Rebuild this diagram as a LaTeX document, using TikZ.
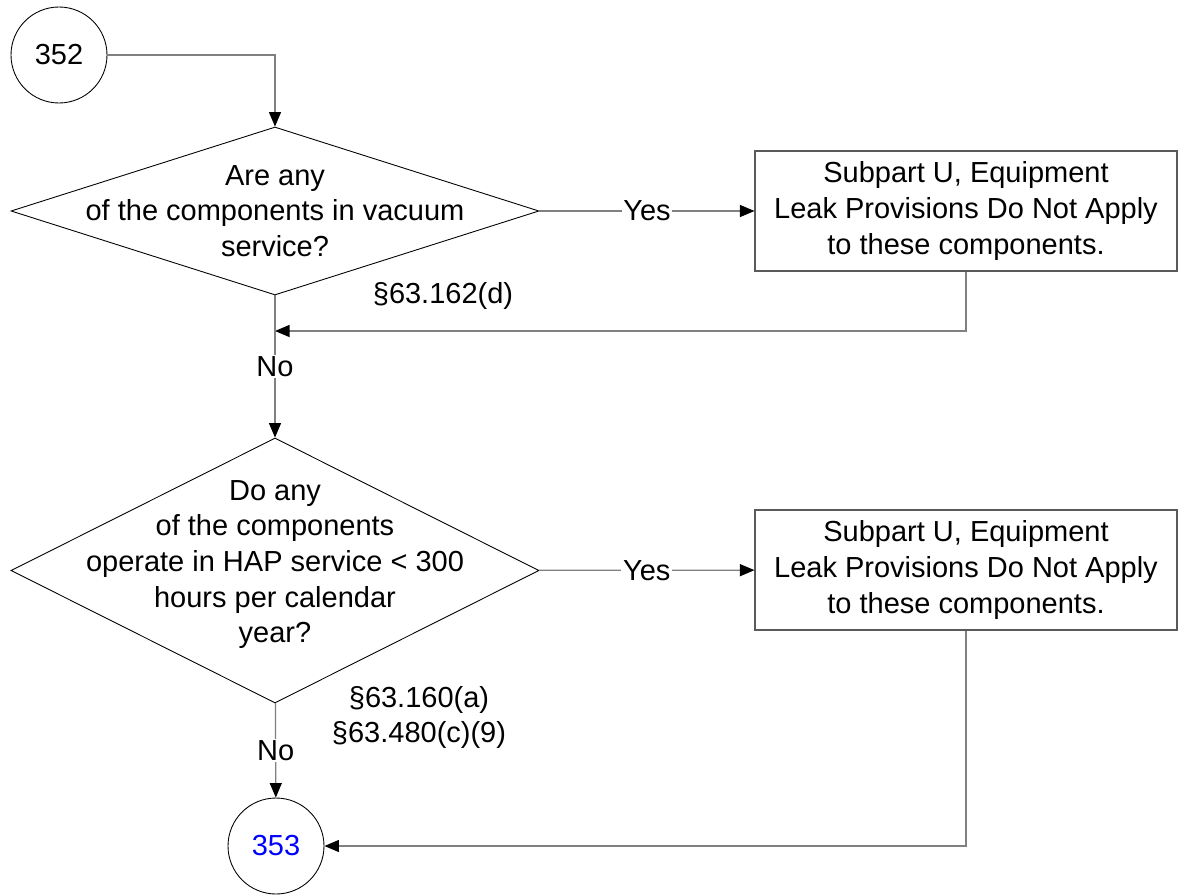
\documentclass[tikz,border=0pt]{standalone}
\usepackage{fontspec}
\setmainfont{Liberation Sans}
\usepackage{tikz}
\usetikzlibrary{positioning,arrows.meta,shapes.geometric}
\usepackage{xcolor}
\definecolor{linegray}{RGB}{128,128,128}
\definecolor{boxgray}{RGB}{90,90,90}
\definecolor{refblue}{RGB}{0,0,255}

\begin{document}
\begin{tikzpicture}[>={Triangle[length=2.9mm,width=2.4mm,black]},
  every node/.style={font=\fontsize{16.5}{20.3}\selectfont},
  conn/.style={draw=linegray,line width=0.7pt},
  onpage/.style={circle,draw,line width=0.5pt,minimum size=1.92cm,inner sep=0pt},
  decision/.style={diamond,draw,line width=0.5pt,minimum width=10.56cm,inner sep=0pt},
  result/.style={rectangle,draw=boxgray,line width=0.6pt,minimum width=8.44cm,minimum height=2.4cm,align=center},
  qtext/.style={align=center},
  lbl/.style={fill=white,inner sep=1pt}]
\useasboundingbox (0,0) rectangle (23.56,-17.9);
\node[onpage] (c352) at (1.18,-1.10) {352};
\node[decision,minimum height=3.36cm] (q1) at (5.5,-4.22) {};
\node[qtext] (q1t) at (q1) {Are any\\of the components in vacuum\\service?};
\node[result] (b1) at (19.32,-4.22) {Subpart U, Equipment\\Leak Provisions Do Not Apply\\to these components.};
\coordinate (j1) at (5.5,-6.62);
\node (r1) at (8.86,-5.92) {§63.162(d)};
\node[decision,minimum height=5.3cm] (q2) at (5.5,-11.41) {};
\node[qtext] (q2t) at ([yshift=0.12cm]q2) {Do any\\of the components\\operate in HAP service < 300\\hours per calendar\\year?};
\node[result] (b2) at (19.32,-11.4) {Subpart U, Equipment\\Leak Provisions Do Not Apply\\to these components.};
\node[align=center] (r2) at (8.38,-14.35) {§63.160(a)\\§63.480(c)(9)};
\node[onpage,text=refblue] (c353) at (5.52,-16.92) {353};
\draw[conn,->] (c352) -| (q1);
\draw[conn,->] (q1) -- node[lbl] {Yes} (b1);
\draw[conn,->] (b1) |- (j1);
\draw[conn,->] (q1) -- node[lbl] {No} (q2);
\draw[conn,->] (q2) -- node[lbl] {Yes} (b2);
\draw[conn,->] (q2) -- node[lbl] {No} (c353);
\draw[conn,->] (b2) |- (c353);
\end{tikzpicture}
\end{document}
